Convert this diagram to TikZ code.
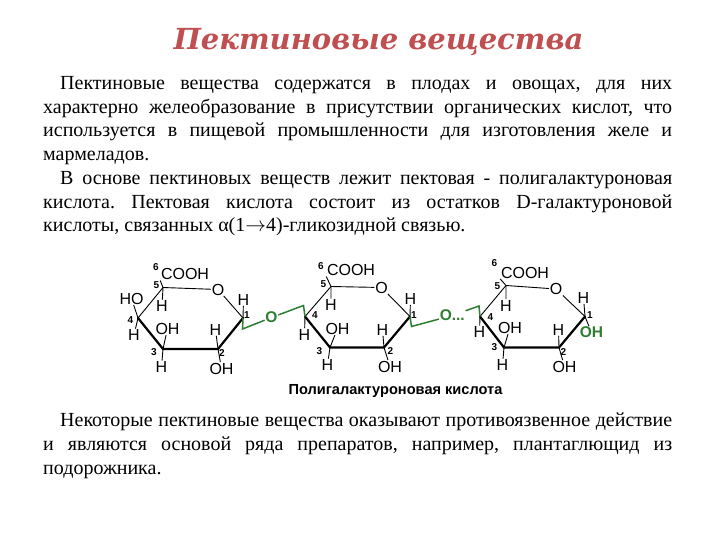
\documentclass[tikz,border=0pt]{standalone}
\usepackage{fontspec}
\setmainfont{Liberation Serif}
\setsansfont{Liberation Sans}
\newfontfamily\titlefont{DejaVu Serif}
\usepackage{tikz}
\definecolor{titlered}{HTML}{BF4F50}
\definecolor{linkgreen}{HTML}{2E7D32}
\frenchspacing
\tikzset{
  para/.style={anchor=north west, inner sep=0pt, text width=629pt, align=justify, font=\fontsize{20}{23.75}\selectfont},
  atom/.style={inner sep=0.6pt, font=\sffamily\fontsize{16}{16}\selectfont},
  num/.style={inner sep=0pt, font=\sffamily\bfseries\fontsize{10}{10}\selectfont},
  link/.style={atom, text=linkgreen, font=\sffamily\bfseries\fontsize{15.5}{16}\selectfont},
  thin bond/.style={draw, line width=0.9pt},
  thick bond/.style={draw, line width=2.2pt, line cap=round},
  green bond/.style={draw=linkgreen, line width=1.5pt},
}
\begin{document}
\begin{tikzpicture}[x=1pt,y=-1pt]
\useasboundingbox[fill=white] (0,0) rectangle (720,540);

\node [font=\titlefont\bfseries\itshape\fontsize{29}{30}\selectfont, text=titlered, inner sep=0pt] (title) at (378.5,42) {Пектиновые вещества};

\node [para] (top) at (43,76) {\hspace*{17pt}Пектиновые вещества содержатся в плодах и овощах, для них\linebreak
характерно желеобразование в присутствии органических кислот, что\linebreak
используется в пищевой промышленности для изготовления желе и\linebreak
мармеладов.\par
\hspace*{17pt}В основе пектиновых веществ лежит пектовая - полигалактуроновая\linebreak
кислота. Пектовая кислота состоит из остатков D-галактуроновой\linebreak
кислоты, связанных α(1$\rightarrow$4)-гликозидной связью.};

\node [para] (bottom) at (43,413) {\hspace*{17pt}Некоторые пектиновые вещества оказывают противоязвенное действие\linebreak
и являются основой ряда препаратов, например, плантаглющид из\linebreak
подорожника.};

\node [font=\sffamily\bfseries\fontsize{14.6}{16}\selectfont, inner sep=0pt] (caption) at (395.5,391) {Полигалактуроновая кислота};

% first ring
\coordinate (a1) at (243,318);
\coordinate (a2) at (218,349);
\coordinate (a3) at (163,349);
\coordinate (a4) at (138,318);
\coordinate (a5) at (163,287.5);
\coordinate (ad) at (242.5,329);
\node [atom] (aO) at (218,289.5) {O};
\node [atom] (aCOOH) at (185,274) {COOH};
\node [atom] (aHO) at (131.5,298.5) {HO};
\node [atom] (aH4) at (134,335) {H};
\node [atom] (aH5) at (162,306) {H};
\node [atom] (aOH3) at (167.5,328.5) {OH};
\node [atom] (aH3) at (161.5,367) {H};
\node [atom] (aH2) at (215.5,329.5) {H};
\node [atom] (aOH2) at (221.5,368.5) {OH};
\node [atom] (aH1) at (243.5,299.5) {H};
\node [num] (an6) at (156,267.5) {6};
\node [num] (an5) at (156.5,285) {5};
\node [num] (an4) at (130.5,320) {4};
\node [num] (an3) at (154,352.5) {3};
\node [num] (an2) at (222,353.5) {2};
\node [num] (an1) at (247,315.5) {1};
\path [thin bond] (a5) -- (aO) (aO) -- (a1) (a4) -- (a5);
\path [thick bond] (a1) -- (a2) -- (a3) -- (a4);
\path [thin bond] (a5) -- (aCOOH.south west |- aCOOH.south) (a5) -- (aH5) (a4) -- (aHO) (a4) -- (aH4);
\path [thin bond] (a3) -- (aOH3) (a3) -- (aH3) (a2) -- (aH2) (a2) -- (aOH2) (a1) -- (aH1);

% second ring
\coordinate (b1) at (410,316.5);
\coordinate (b2) at (384,347.5);
\coordinate (b3) at (330,347.5);
\coordinate (b4) at (305,316.5);
\coordinate (b5) at (331,286.5);
\coordinate (bu) at (303.5,305.5);
\coordinate (bd) at (411.5,326.5);
\node [atom] (bO) at (381.5,287.5) {O};
\node [atom] (bCOOH) at (351,270) {COOH};
\node [atom] (bH4) at (304.5,334.5) {H};
\node [atom] (bH5) at (331,305) {H};
\node [atom] (bOH3) at (337.5,328.5) {OH};
\node [atom] (bH3) at (327.5,365) {H};
\node [atom] (bH2) at (382.5,329.5) {H};
\node [atom] (bOH2) at (390,366.5) {OH};
\node [atom] (bH1) at (410.5,298.5) {H};
\node [num] (bn6) at (321,266) {6};
\node [num] (bn5) at (323.5,284) {5};
\node [num] (bn4) at (315,315.5) {4};
\node [num] (bn3) at (319.5,351.5) {3};
\node [num] (bn2) at (390.5,351.5) {2};
\node [num] (bn1) at (414,315.5) {1};
\path [thin bond] (b5) -- (bO) (bO) -- (b1) (b4) -- (b5);
\path [thick bond] (b1) -- (b2) -- (b3) -- (b4);
\path [thin bond] (b5) -- (bCOOH.south west |- bCOOH.south) (b5) -- (bH5) (b4) -- (bH4);
\path [thin bond] (b3) -- (bOH3) (b3) -- (bH3) (b2) -- (bH2) (b2) -- (bOH2) (b1) -- (bH1);

% third ring
\coordinate (c1) at (585,316.5);
\coordinate (c2) at (559,347.5);
\coordinate (c3) at (504,347.5);
\coordinate (c4) at (480,316.5);
\coordinate (c5) at (506,285.5);
\coordinate (cu) at (479,306);
\node [atom] (cO) at (556,289) {O};
\node [atom] (cCOOH) at (525,272.5) {COOH};
\node [atom] (cH4) at (479.5,332) {H};
\node [atom] (cH5) at (506,305.5) {H};
\node [atom] (cOH3) at (510,327.5) {OH};
\node [atom] (cH3) at (502.5,365) {H};
\node [atom] (cH2) at (558.5,329.5) {H};
\node [atom] (cOH2) at (564.5,366.5) {OH};
\node [atom] (cH1) at (583.5,297.5) {H};
\node [link] (cOH1) at (591.5,332.5) {OH};
\node [num] (cn6) at (494.5,263.5) {6};
\node [num] (cn5) at (497.5,286) {5};
\node [num] (cn4) at (490.5,317.5) {4};
\node [num] (cn3) at (494.5,347.5) {3};
\node [num] (cn2) at (563.5,352.5) {2};
\node [num] (cn1) at (590,315.5) {1};
\path [thin bond] (c5) -- (cO) (cO) -- (c1) (c4) -- (c5);
\path [thick bond] (c1) -- (c2) -- (c3) -- (c4);
\path [thin bond] (c5) -- (cCOOH.south west |- cCOOH.south) (c5) -- (cH5) (c4) -- (cH4);
\path [thin bond] (c3) -- (cOH3) (c3) -- (cH3) (c2) -- (cH2) (c2) -- (cOH2) (c1) -- (cH1) (c1) -- (cOH1);

% links between the rings
\node [link] (oab) at (271.5,317.5) {O};
\node [link, anchor=west] (obc) at (439,315.5) {O...};
\path [green bond] (a1) -- (ad) -- (oab);
\path [green bond] (oab) -- (bu) -- (b4);
\path [green bond] (b1) -- (bd) -- (obc);
\path [green bond] (obc) -- (cu) -- (c4);
\end{tikzpicture}
\end{document}
